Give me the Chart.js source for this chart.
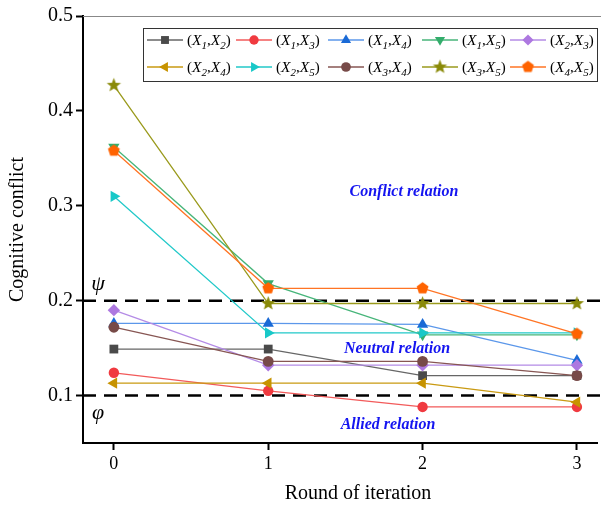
<!DOCTYPE html>
<html>
<head>
    <title>Cognitive conflict</title>
    <script src="https://cdn.jsdelivr.net/npm/chart.js"></script>
    <style>
        body { margin: 0; background: #fff; }
    </style>
</head>
<body>
    <canvas id="conflictChart" width="604" height="506"></canvas>
    <script>
        var rounds = [0, 1, 2, 3];
        var xTicks = [0, 1, 2, 3];
        var yTicks = [0.1, 0.2, 0.3, 0.4, 0.5];
        var pairs = [[1, 2], [1, 3], [1, 4], [1, 5], [2, 3], [2, 4], [2, 5], [3, 4], [3, 5], [4, 5]];

        var x1x2 = [0.149, 0.149, 0.121, 0.121];
        var x1x3 = [0.124, 0.105, 0.088, 0.088];
        var x1x4 = [0.176, 0.176, 0.175, 0.137];
        var x1x5 = [0.362, 0.218, 0.164, 0.164];
        var x2x3 = [0.190, 0.132, 0.132, 0.132];
        var x2x4 = [0.113, 0.113, 0.113, 0.093];
        var x2x5 = [0.310, 0.166, 0.166, 0.166];
        var x3x4 = [0.172, 0.136, 0.136, 0.121];
        var x3x5 = [0.427, 0.197, 0.197, 0.197];
        var x4x5 = [0.358, 0.213, 0.213, 0.165];

        var psi = 0.2;
        var phi = 0.1;

        var serif = '"Liberation Serif", "DejaVu Serif", serif';

        // filled star and pentagon markers as small canvases
        function polyMarker(color, n, outer, inner) {
            var c = document.createElement('canvas');
            var s = Math.ceil(outer * 2 + 2);
            c.width = s; c.height = s;
            var g = c.getContext('2d');
            g.fillStyle = color;
            g.beginPath();
            var k = inner ? n * 2 : n;
            for (var i = 0; i < k; i++) {
                var r = inner && i % 2 ? inner : outer;
                var a = -Math.PI / 2 + i * 2 * Math.PI / k;
                var px = s / 2 + r * Math.cos(a), py = s / 2 + r * Math.sin(a);
                if (i === 0) g.moveTo(px, py); else g.lineTo(px, py);
            }
            g.closePath();
            g.fill();
            return c;
        }

        var seriesValues = [x1x2, x1x3, x1x4, x1x5, x2x3, x2x4, x2x5, x3x4, x3x5, x4x5];
        var lineColors = ['#666666', '#f25a5a', '#5b97ea', '#47b57a', '#b48be6', '#c99a12', '#22c9c9', '#875653', '#9a9a1c', '#ff7424'];
        var markColors = ['#4a4a4a', '#f03a40', '#1a6ad6', '#34ad6c', '#ad78e0', '#c79300', '#18c8c8', '#774a48', '#8a8a08', '#ff6300'];
        var styles = ['rect', 'circle', 'triangle', 'triangle', 'rectRot', 'triangle', 'triangle', 'circle',
            polyMarker(markColors[8], 5, 7.5, 3.2), polyMarker(markColors[9], 5, 6.2)];
        var rotations = [0, 0, 0, 180, 0, 270, 90, 0, 0, 0];
        var radii = [6.2, 5.2, 6.5, 6.5, 6.2, 6.5, 6.5, 5.4, 7, 6];

        var datasets = seriesValues.map(function(vals, i) {
            return {
                label: '(X' + pairs[i][0] + ',X' + pairs[i][1] + ')',
                data: rounds.map(function(r, j) { return { x: r, y: vals[j] }; }),
                borderColor: lineColors[i],
                backgroundColor: markColors[i],
                borderWidth: 1.3,
                pointStyle: styles[i],
                pointRotation: rotations[i],
                pointRadius: radii[i],
                pointBackgroundColor: markColors[i],
                pointBorderColor: markColors[i],
                pointBorderWidth: 0,
                tension: 0,
                order: 10 - i
            };
        });

        var extras = {
            id: 'extras',
            beforeDatasetsDraw: function(chart) {
                var ctx = chart.ctx, a = chart.chartArea, ys = chart.scales.y;
                ctx.save();
                ctx.strokeStyle = '#888';
                ctx.lineWidth = 1;
                ctx.beginPath();
                ctx.moveTo(a.left, a.top + 0.5);
                ctx.lineTo(a.right + 4, a.top + 0.5);
                ctx.stroke();
                ctx.strokeStyle = '#000';
                ctx.lineWidth = 2.5;
                ctx.setLineDash([13, 8]);
                [psi, phi].forEach(function(v) {
                    var y = ys.getPixelForValue(v);
                    ctx.beginPath();
                    ctx.moveTo(a.left, y);
                    ctx.lineTo(a.right + 4, y);
                    ctx.stroke();
                });
                ctx.restore();
            },
            afterDraw: function(chart) {
                var ctx = chart.ctx, ys = chart.scales.y, a = chart.chartArea;
                ctx.save();
                ctx.textAlign = 'center';
                ctx.textBaseline = 'middle';
                ctx.fillStyle = '#000';
                ctx.font = 'italic 22px ' + serif;
                ctx.fillText('\u03C8', 98, ys.getPixelForValue(psi) - 16);
                ctx.fillText('\u03C6', 98, ys.getPixelForValue(phi) + 18);

                ctx.fillStyle = '#1414f0';
                ctx.font = 'italic bold 16px ' + serif;
                ctx.fillText('Conflict relation', 404, 192);
                ctx.fillText('Neutral relation', 397, 349);
                ctx.fillText('Allied relation', 388, 425);

                // axis titles
                ctx.fillStyle = '#000';
                ctx.font = '20px ' + serif;
                ctx.fillText('Round of iteration', 358, 494);
                ctx.save();
                ctx.translate(18, (a.top + a.bottom) / 2);
                ctx.rotate(-Math.PI / 2);
                ctx.fillText('Cognitive conflict', 0, 0);
                ctx.restore();

                // legend box
                var bx = 143.5, by = 28.5, bw = 454, bh = 53;
                ctx.fillStyle = '#fff';
                ctx.fillRect(bx, by, bw, bh);
                ctx.strokeStyle = '#333';
                ctx.lineWidth = 1;
                ctx.strokeRect(bx, by, bw, bh);
                var colX = [147, 236, 328, 422, 510];
                var rowY = [40, 67];
                chart.data.datasets.forEach(function(ds, i) {
                    var x0 = colX[i % 5], y0 = rowY[Math.floor(i / 5)];
                    ctx.strokeStyle = ds.borderColor;
                    ctx.lineWidth = 1.3;
                    ctx.setLineDash([]);
                    ctx.beginPath();
                    ctx.moveTo(x0, y0);
                    ctx.lineTo(x0 + 36, y0);
                    ctx.stroke();
                    ctx.fillStyle = ds.pointBackgroundColor;
                    ctx.strokeStyle = ds.pointBorderColor;
                    Chart.helpers.drawPoint(ctx, {
                        pointStyle: ds.pointStyle, radius: ds.pointRadius * 0.9,
                        rotation: ds.pointRotation, borderWidth: 0
                    }, x0 + 18, y0);
                    // label "(X_a,X_b)"
                    var p = pairs[i], tx = x0 + 40, by0 = y0 + 5;
                    ctx.fillStyle = '#000';
                    ctx.textAlign = 'left';
                    ctx.textBaseline = 'alphabetic';
                    var parts = [
                        ['15px ', '(', 0], ['italic 15.5px ', 'X', 0], ['italic 11px ', String(p[0]), 4],
                        ['15px ', ',', 0], ['italic 15.5px ', 'X', 0], ['italic 11px ', String(p[1]), 4],
                        ['15px ', ')', 0]
                    ];
                    parts.forEach(function(pt) {
                        ctx.font = pt[0] + serif;
                        ctx.fillText(pt[1], tx, by0 + pt[2]);
                        tx += ctx.measureText(pt[1]).width;
                    });
                });
                ctx.restore();
            }
        };

        var ctx = document.getElementById('conflictChart').getContext('2d');
        var conflictChart = new Chart(ctx, {
            type: 'line',
            data: { datasets: datasets },
            options: {
                responsive: false,
                animation: false,
                layout: { padding: { top: 16, right: 4, left: 0, bottom: 0 } },
                plugins: { legend: { display: false }, tooltip: { enabled: false } },
                scales: {
                    x: {
                        type: 'linear',
                        min: -0.2,
                        max: 3.13,
                        afterBuildTicks: function(s) { s.ticks = xTicks.map(function(v) { return { value: v }; }); },
                        afterFit: function(s) { s.height = 63; },
                        grid: { drawOnChartArea: false, tickLength: 7, tickWidth: 2, tickColor: '#000' },
                        border: { color: '#000', width: 2 },
                        ticks: { color: '#000', font: { family: serif, size: 18 }, padding: 3, maxRotation: 0 }
                    },
                    y: {
                        min: 0.05,
                        max: 0.5,
                        afterBuildTicks: function(s) { s.ticks = yTicks.map(function(v) { return { value: v }; }); },
                        afterFit: function(s) { s.width = 83; },
                        grid: { drawOnChartArea: false, tickLength: 7, tickWidth: 2, tickColor: '#000' },
                        border: { color: '#000', width: 2 },
                        ticks: {
                            color: '#000', font: { family: serif, size: 20 }, padding: 3,
                            callback: function(v) { return v.toFixed(1); }
                        }
                    }
                }
            },
            plugins: [extras]
        });
    </script>
</body>
</html>
